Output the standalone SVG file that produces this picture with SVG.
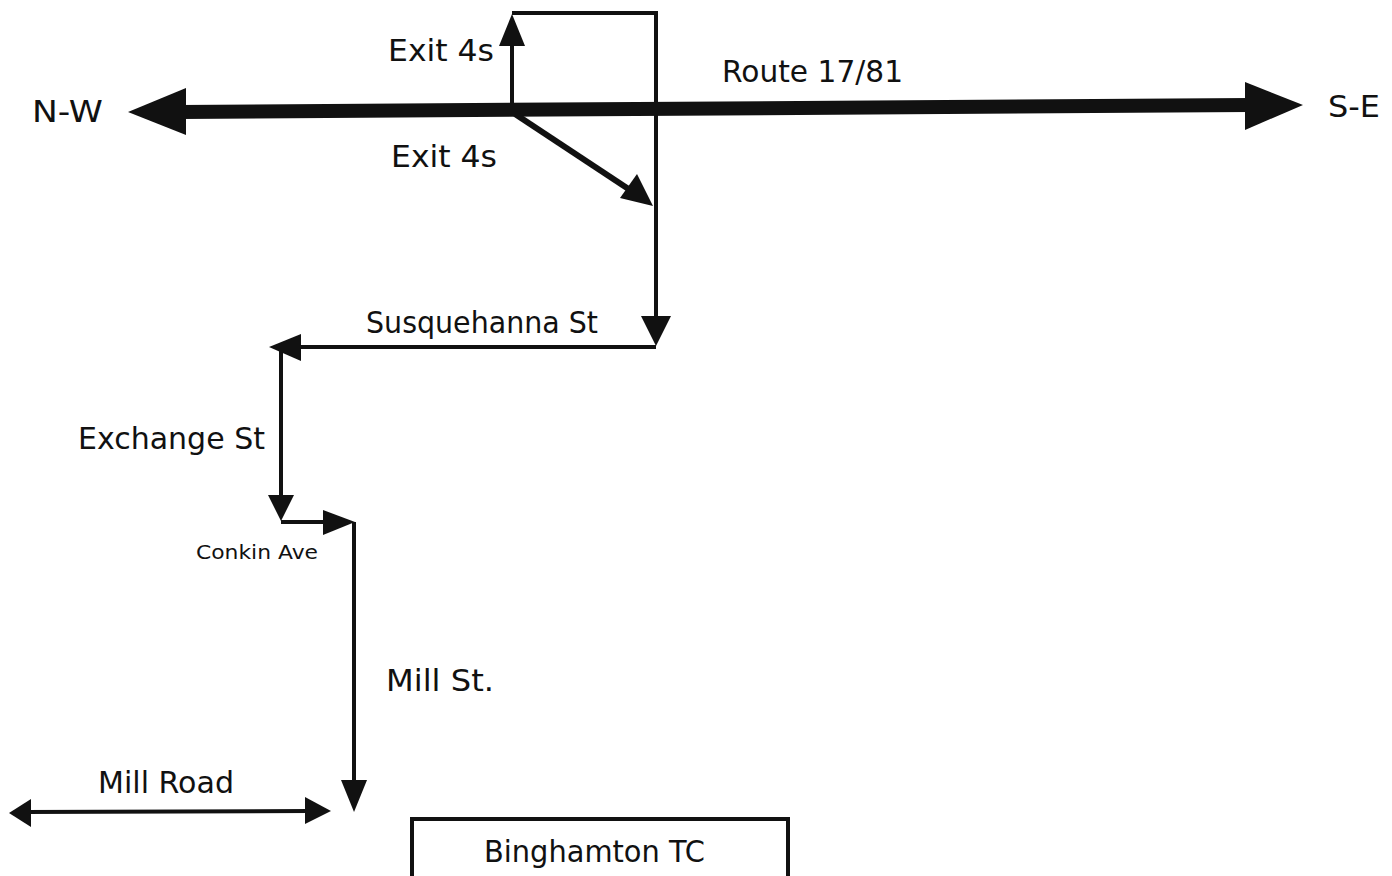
<svg xmlns="http://www.w3.org/2000/svg" width="1392" height="876" viewBox="0 0 1392 876">
<style>
.t{font-family:"DejaVu Sans","Liberation Sans",sans-serif;font-size:30px;fill:#111;}
.s{font-family:"DejaVu Sans","Liberation Sans",sans-serif;font-size:20px;fill:#111;}
.r{fill:none;stroke:#111;stroke-width:4;}
.h{fill:#111;stroke:none;}
</style>
<rect width="1392" height="876" fill="#fff"/>
<g id="connectors">
  <!-- main highway -->
  <path d="M180,112 L1250,105" fill="none" stroke="#111" stroke-width="14"/>
  <polygon class="h" points="128,112 186,88 186,135"/>
  <polygon class="h" points="1303,105 1245,82 1245,130"/>
  <!-- exit up -->
  <path class="r" d="M512,104 L512,40"/>
  <polygon class="h" points="512,14 499,46 525,46"/>
  <path class="r" d="M512,13 L656,13 L656,320"/>
  <polygon class="h" points="656,346 641,316 671,316"/>
  <!-- diagonal exit -->
  <path d="M515,114 L630,190" fill="none" stroke="#111" stroke-width="6"/>
  <polygon class="h" points="653,206 620,198 637,174"/>
  <!-- Susquehanna -->
  <path class="r" d="M656,347 L295,347"/>
  <polygon class="h" points="269,347 301,334 301,361"/>
  <!-- Exchange -->
  <path class="r" d="M281,347 L281,497"/>
  <polygon class="h" points="281,521 268,495 294,495"/>
  <!-- Conkin -->
  <path class="r" d="M281,522 L330,522"/>
  <polygon class="h" points="355,522 323,510 323,535"/>
  <!-- Mill St -->
  <path class="r" d="M354,522 L354,785"/>
  <polygon class="h" points="354,812 341,780 367,780"/>
  <!-- Mill Road -->
  <path class="r" d="M25,812 L310,811"/>
  <polygon class="h" points="9,813 31,799 31,827"/>
  <polygon class="h" points="331,811 305,797 305,824"/>
</g>
<g id="n-nw"><text class="t" x="32" y="122" textLength="71" lengthAdjust="spacingAndGlyphs">N-W</text></g>
<g id="n-se"><text class="t" x="1328" y="117" textLength="52" lengthAdjust="spacingAndGlyphs">S-E</text></g>
<g id="n-route"><text class="t" x="722" y="82" textLength="181" lengthAdjust="spacingAndGlyphs">Route 17/81</text></g>
<g id="n-exit1"><text class="t" x="388" y="61" textLength="106" lengthAdjust="spacingAndGlyphs">Exit 4s</text></g>
<g id="n-exit2"><text class="t" x="391" y="167" textLength="106" lengthAdjust="spacingAndGlyphs">Exit 4s</text></g>
<g id="n-susq"><text class="t" x="366" y="333" textLength="232" lengthAdjust="spacingAndGlyphs">Susquehanna St</text></g>
<g id="n-exch"><text class="t" x="78" y="449" textLength="187" lengthAdjust="spacingAndGlyphs">Exchange St</text></g>
<g id="n-conkin"><text class="s" x="196" y="559" textLength="122" lengthAdjust="spacingAndGlyphs">Conkin Ave</text></g>
<g id="n-millst"><text class="t" x="386" y="691" textLength="108" lengthAdjust="spacingAndGlyphs">Mill St.</text></g>
<g id="n-millrd"><text class="t" x="98" y="793" textLength="136" lengthAdjust="spacingAndGlyphs">Mill Road</text></g>
<g id="n-tc">
  <rect x="412" y="819" width="376" height="62" fill="#fff" stroke="#111" stroke-width="4"/>
  <text class="t" x="484" y="862" textLength="221" lengthAdjust="spacingAndGlyphs">Binghamton TC</text>
</g>
</svg>
